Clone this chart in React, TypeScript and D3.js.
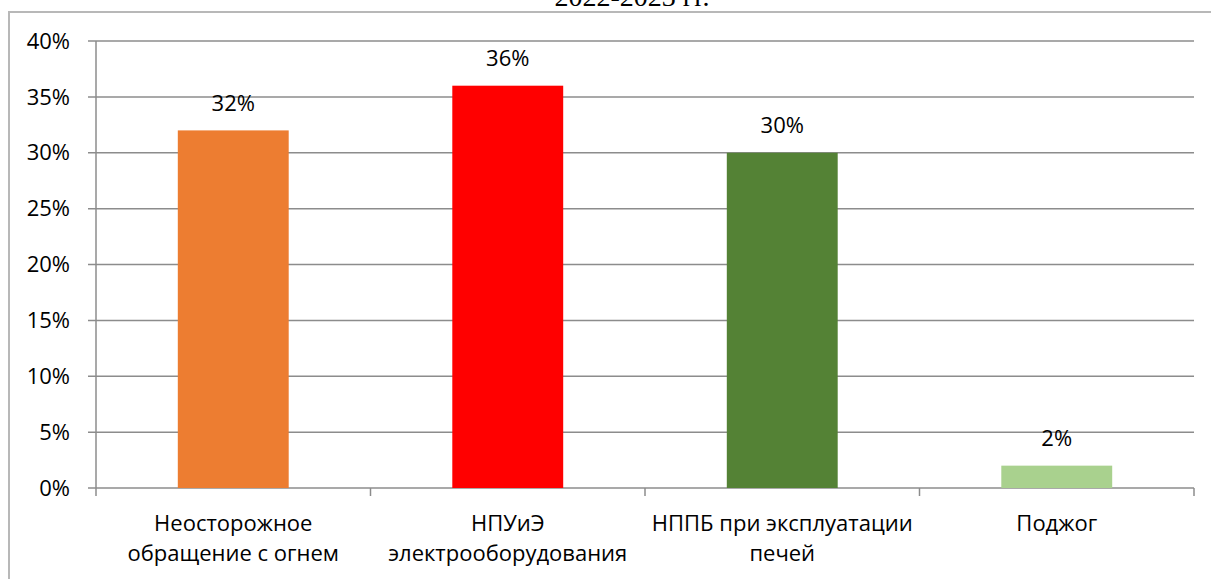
import React from "react";
import * as d3 from "d3";

const categories: string[][] = [
  ["Неосторожное", "обращение с огнем"],
  ["НПУиЭ", "электрооборудования"],
  ["НППБ при эксплуатации", "печей"],
  ["Поджог"],
];
const values: number[] = [0.32, 0.36, 0.3, 0.02];
const colors: string[] = ["#ED7D31", "#FF0000", "#548235", "#A9D18E"];
const yTicks: number[] = [0, 0.05, 0.1, 0.15, 0.2, 0.25, 0.3, 0.35, 0.4];
const title = "2022-2023 гг.";

const W = 1211;
const H = 579;
const left = 96;
const right = 1194;
const top = 41;
const bottom = 488;
const font = "'Open Sans', 'Noto Sans', sans-serif";
const fs = 22;

export default function App() {
  const x = d3
    .scaleBand<number>()
    .domain(values.map((_, i) => i))
    .range([left, right])
    .paddingInner(0.596)
    .paddingOuter(0.298);
  const xOuter = d3
    .scaleBand<number>()
    .domain(values.map((_, i) => i))
    .range([left, right]);
  const y = d3.scaleLinear().domain([0, 0.4]).range([bottom, top]);
  const fmt = d3.format(".0%");
  const grid = "#8c8c8c";
  const tickXs = [...values.map((_, i) => xOuter(i)!), right];

  return (
    <svg
      width={W}
      height={H}
      style={{ position: "absolute", left: 0, top: 0, background: "#fff" }}
    >
      <text
        x={632}
        y={6}
        textAnchor="middle"
        fontFamily="'Liberation Serif', serif"
        fontSize={28}
        fill="#000"
      >
        {title}
      </text>
      <rect x={9} y={12} width={W} height={H} fill="none" stroke="#b8b8b8" strokeWidth={2} />
      {yTicks.map((t) => (
        <g key={t}>
          <line x1={88} x2={right} y1={y(t)} y2={y(t)} stroke={grid} strokeWidth={1.5} />
          <text
            x={70}
            y={y(t)}
            dy="0.35em"
            textAnchor="end"
            fontFamily={font}
            fontSize={fs}
            fill="#000"
          >
            {fmt(t)}
          </text>
        </g>
      ))}
      <line x1={left} x2={left} y1={top} y2={bottom} stroke={grid} strokeWidth={1.5} />
      {tickXs.map((tx, i) => (
        <line key={i} x1={tx} x2={tx} y1={bottom} y2={bottom + 8} stroke={grid} strokeWidth={1.5} />
      ))}
      {values.map((v, i) => (
        <g key={i}>
          <rect x={x(i)} y={y(v)} width={x.bandwidth()} height={bottom - y(v)} fill={colors[i]} />
          <text
            x={x(i)! + x.bandwidth() / 2}
            y={y(v) - 27}
            dy="0.35em"
            textAnchor="middle"
            fontFamily={font}
            fontSize={fs}
            fill="#000"
          >
            {fmt(v)}
          </text>
          {categories[i].map((line, j) => (
            <text
              key={j}
              x={x(i)! + x.bandwidth() / 2}
              y={523 + j * 30}
              dy="0.35em"
              textAnchor="middle"
              fontFamily={font}
              fontSize={fs}
              fill="#000"
            >
              {line}
            </text>
          ))}
        </g>
      ))}
    </svg>
  );
}
